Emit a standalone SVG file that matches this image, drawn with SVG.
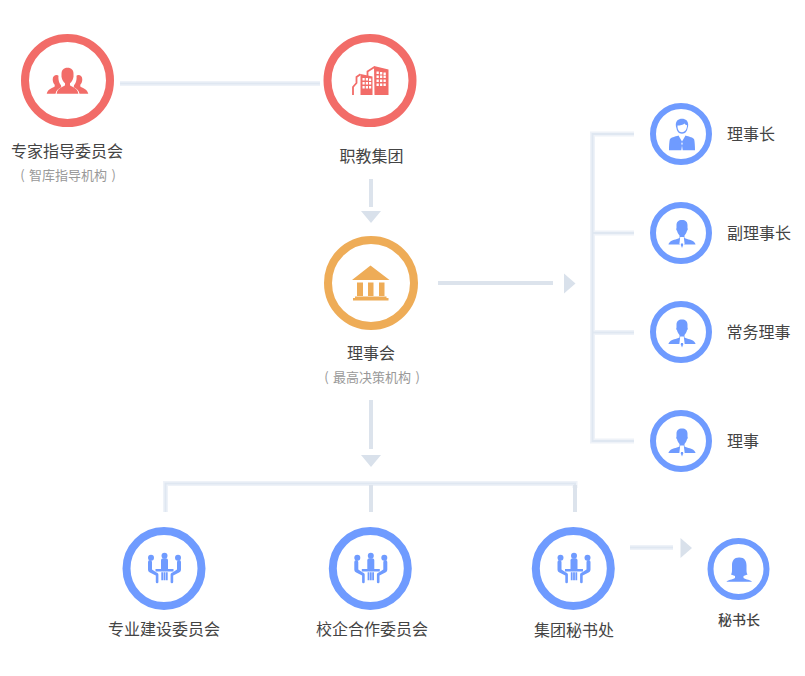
<svg xmlns="http://www.w3.org/2000/svg" width="805" height="676" viewBox="0 0 805 676">
<style>
text{font-family:"Noto Sans CJK SC","Noto Sans",sans-serif;font-size:16px;fill:#444}
.m{text-anchor:middle}
.sub{font-size:13px;fill:#999;word-spacing:1.500px}
.sm{font-size:14px;fill:#444;font-weight:500}
.red{fill:none;stroke:#f26c68;stroke-width:8}
.org{fill:none;stroke:#eeac57;stroke-width:8}
.blu{fill:none;stroke:#6f9bff;stroke-width:8}
.blu6{fill:none;stroke:#6f9bff;stroke-width:6}
.ir{fill:#f26c68}.io{fill:#eeac57}.ib{fill:#6f9bff}
.w{fill:#fff}
.lt{fill:none;stroke:#eef2f8;stroke-width:5}
.ltc{fill:none;stroke:#dfe7f1;stroke-width:2}
.dk{fill:none;stroke:#dce3ec;stroke-width:4}
.ar{fill:#d9e1eb}
</style>
<defs>
<path id="wire" d="M634 134H592.500V441H634M592.500 233H634M592.500 332.500H634M165.500 512V483.500H575V488M120 83.500H320M630 547.500H673"/>
<g id="person">
<path class="ib" d="M0-13C-3.500-13-5.500-11-5.500-8V-5C-6-4-5.800-3-5-2.200C-4.500 0-3.500 1.500-2.500 2.500V5C-5.500 6.500-10.500 7-12 9C-12.700 9.800-13.500 10.500-13.500 11.500H13.500C13.500 10.500 12.700 9.800 12 9C10.500 7 5.500 6.500 2.500 5V2.500C3.500 1.500 4.500 0 5-2.200C5.800-3 6-4 5.500-5V-8C5.500-11 3.500-13 0-13z"/>
<path class="w" d="M-1.800 4h3.600l.8 7-2.600 3-2.600-3z"/>
<path class="ib" d="M-1 10.500h2l.2 1.500-1.200 3-1.200-3z"/>
</g>
<g id="meet" class="ib">
<circle cx="0" cy="-10.300" r="3"/><circle cx="-13.500" cy="-8.300" r="3"/><circle cx="13.500" cy="-8.300" r="3"/>
<path d="M-3.500 3v-8.500c0-1.500 1-2.200 2.300-2.200h2.400c1.300 0 2.300 .7 2.300 2.200v8.500z"/>
<path d="M-9 3h18v2.500h-18z"/>
<path d="M-3.200 6.200h1.800v8h-1.800zM-.9 6.200h1.800v8h-1.800zM1.400 6.200h1.800v8h-1.800z"/>
<path id="arm" d="M-16.500-4a2 2 0 0 1 4 0v7.500l4.500 3c1 .4 1.900 1 1.900 2v7.500a1.300 1.300 0 0 1-2.600 0v-6.500l-5.900-3c-1-.5-1.900-1.500-1.900-3z"/>
<use href="#arm" transform="scale(-1,1)"/>
</g>
<path id="side" d="M56.700 75c-2.500 0-4 1.500-4 4.500 0 2 .8 4 2 5.300v1.700c-1.500 1.500-6.700 2-8 7.200h8.800c.5-3 3-5.500 6-6.500-.3-.5-.5-1-.5-2-1-1-2.200-3-2.500-6-.2-1-.1-2.500 0-3.500-.5-.5-1-.7-1.800-.7z"/>
</defs>
<g id="connectors">
<use href="#wire" class="lt"/>
<use href="#wire" class="ltc"/>
<path class="dk" d="M371 179V207"/>
<path class="ar" d="M361 211H381L371 223z"/>
<path class="dk" d="M438 283H553"/>
<path class="ar" d="M564 273.500V293.500L575.500 283.500z"/>
<path class="dk" d="M371 400V449"/>
<path class="ar" d="M361 455H381L371 467z"/>
<path class="dk" d="M371 485V512M575 485V512"/>
<path class="ar" d="M680.500 538V558L692 548z"/>
</g>
<g id="n-expert"><circle class="red" cx="67.500" cy="80.500" r="42.500"/>
<path class="ir" d="M67.500 67.700c-4 0-6 2.500-6 6v3c.5 3 2 5.500 3.500 6.500v2c-2 2-7.500 2.500-8.300 8v.5h21.600v-.5c-.8-5.500-6.300-6-8.300-8v-2c1.500-1 3-3.500 3.500-6.500v-3c0-3.500-2-6-6-6z"/>
<use href="#side" class="ir"/>
<use href="#side" class="ir" transform="translate(135,0) scale(-1,1)"/>
<text class="m" x="67" y="157">专家指导委员会</text>
<text class="m sub" x="68" y="180">( 智库指导机构 )</text></g>
<g id="n-group"><circle class="red" cx="370" cy="80.500" r="42.500"/>
<path class="ir" d="M374 66L388.500 69.500V95H374.500z"/>
<path fill="none" stroke="#f26c68" stroke-width="1.800" d="M367.500 76V71.500L374.500 67M353 95V87L356.500 83V77L360.500 74.200"/>
<path class="ir" d="M360.500 74L372.500 76.500V95H360.500z"/>
<path class="w" d="M376.500 71.500h2.300v2.500h-2.300zM380 72h2.300v2.500h-2.300zM383.500 72.500h2.300v2.500h-2.300zM376.500 75.500h2.300v2.500h-2.300zM380 75.500h2.300v2.500h-2.300zM383.500 75.500h2.300v2.500h-2.300zM376.500 79.500h2.300v2.500h-2.300zM380 79.500h2.300v2.500h-2.300zM383.500 79.500h2.300v2.500h-2.300zM376.500 83.500h2.300v2.500h-2.300zM380 83.500h2.300v2.500h-2.300zM383.500 83.500h2.300v2.500h-2.300z"/>
<path class="w" d="M362.500 78h2.200v2.500h-2.200zM365.800 78h2.200v2.500h-2.200zM369 78.500h2.200v2.500h-2.200zM362.500 82h2.200v2.500h-2.200zM365.800 82h2.200v2.500h-2.200zM369 82h2.200v2.500h-2.200zM362.500 86h2.200v2.500h-2.200zM365.800 86h2.200v2.500h-2.200zM369 86h2.200v2.500h-2.200z"/>
<text class="m" x="371.500" y="162">职教集团</text></g>
<g id="n-board"><circle class="org" cx="371" cy="283" r="43"/>
<path class="io" d="M370.500 265.500L389.500 280H352zM357 282.500h6v13.500h-6zM368 282.500h5.500v13.500h-5.500zM379 282.500h5.500v13.500h-5.500zM355 296.500h31.500v1.500h-31.500zM353 298h35.500v2.500h-35.500z"/>
<text class="m" x="371" y="359">理事会</text>
<text class="m sub" x="372" y="382">( 最高决策机构 )</text></g>
<g id="n-chair"><circle class="blu6" cx="681" cy="134" r="28"/>
<path class="ib" d="M682 118.700c-3.800 0-6.200 2.300-6.200 6 0 1.300 .2 2.300 .6 3.300 .5 3 2 5.700 5.600 5.700s5.100-2.700 5.600-5.700c.4-1 .6-2 .6-3.300 0-3.700-2.400-6-6.200-6zM677.500 125.500c2.500 0 5.500-.5 7-2 .5 .8 1.500 1.700 2.500 1.800 .2 3-1.500 7-5 7s-4.700-4-4.500-6.800z" fill-rule="evenodd"/>
<path class="ib" d="M678.500 135.500l3.500 6 3.500-6c3.500 1 8 2 8.700 4 .5 2 .8 7 .8 10.800h-12.300l-.7-4.800 .7-2-.7-1.500-.7 1.500 .7 2-.7 4.800h-12.300c0-3.800 .3-8.800 .8-10.800 .7-2 5.200-3 8.700-4z"/>
<text x="727" y="140">理事长</text></g>
<g id="n-vice"><circle class="blu6" cx="681" cy="233" r="28"/><use href="#person" x="682" y="233"/>
<text x="727" y="239">副理事长</text></g>
<g id="n-exec"><circle class="blu6" cx="681" cy="332" r="28"/><use href="#person" x="682" y="332.500"/>
<text x="726.500" y="338">常务理事</text></g>
<g id="n-dir"><circle class="blu6" cx="681" cy="441" r="28"/><use href="#person" x="682" y="441.500"/>
<text x="727" y="447">理事</text></g>
<g id="n-major"><circle class="blu" cx="164" cy="568.500" r="37.500"/><use href="#meet" x="164.500" y="566"/>
<text class="m" x="164" y="635">专业建设委员会</text></g>
<g id="n-school"><circle class="blu" cx="370.300" cy="568.500" r="37.500"/><use href="#meet" x="370.800" y="566"/>
<text class="m" x="372" y="635">校企合作委员会</text></g>
<g id="n-office"><circle class="blu" cx="573.300" cy="568.500" r="37.500"/><use href="#meet" x="574" y="566"/>
<text class="m" x="574" y="636">集团秘书处</text></g>
<g id="n-sec"><circle class="blu6" cx="738.500" cy="569" r="28"/>
<path class="ib" d="M739 557.500c-5 0-7 3.500-7 8v5c0 2-.5 3-1 4l4 1.500v2c-2 1.500-8 2-8.500 3.800h25.500c-.5-1.800-6.500-2.300-8.500-3.800v-2l4-1.500c-.5-1-1-2-1-4v-5c0-4.500-2-8-7-8z"/>
<text class="m sm" x="739" y="625">秘书长</text></g>
</svg>
